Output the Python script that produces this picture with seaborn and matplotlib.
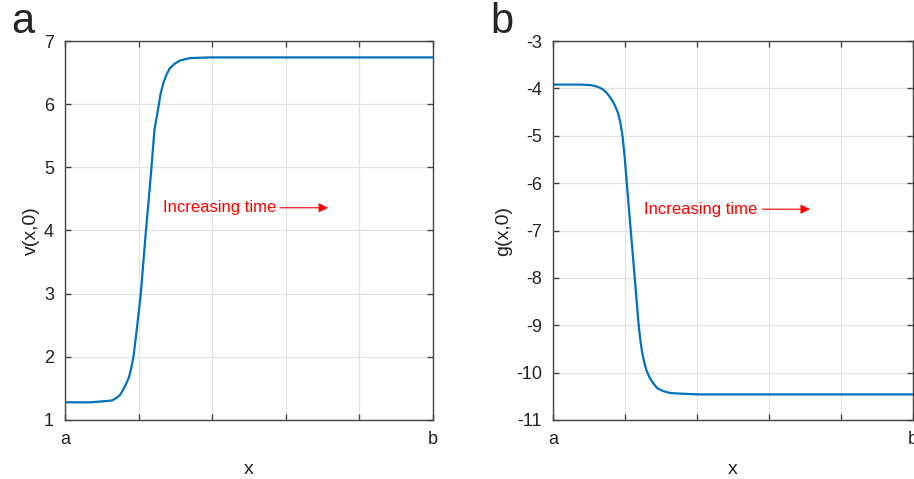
import matplotlib
matplotlib.use("Agg")
import matplotlib.pyplot as plt
import seaborn as sns
import pandas as pd

# ---- data (x normalised: a = 0, b = 1) ----
v_x = [0.0, 0.068, 0.113, 0.128, 0.140, 0.150, 0.158, 0.166, 0.174, 0.180, 0.186,
       0.195, 0.206, 0.213, 0.220, 0.228, 0.235, 0.243, 0.254, 0.260, 0.267,
       0.276, 0.285, 0.298, 0.3125, 0.325, 0.340, 0.394, 1.0]
v_y = [1.28, 1.28, 1.30, 1.31, 1.35, 1.40, 1.48, 1.57, 1.68, 1.82, 2.0,
       2.43, 3.0, 3.5, 4.0, 4.52, 5.0, 5.59, 5.96, 6.17, 6.33,
       6.47, 6.57, 6.64, 6.69, 6.71, 6.73, 6.74, 6.74]

g_x = [0.0, 0.075, 0.103, 0.117, 0.131, 0.140, 0.147, 0.155, 0.163, 0.172, 0.181,
       0.187, 0.193, 0.199, 0.205, 0.216, 0.227, 0.238, 0.243, 0.248, 0.254,
       0.260, 0.268, 0.279, 0.290, 0.306, 0.325, 0.344, 0.408, 1.0]
g_y = [-3.92, -3.92, -3.93, -3.95, -3.99, -4.03, -4.08, -4.15, -4.24, -4.36, -4.53,
       -4.72, -5.0, -5.45, -6.0, -7.0, -8.0, -9.0, -9.33, -9.59, -9.80,
       -9.96, -10.10, -10.23, -10.33, -10.39, -10.43, -10.44, -10.46, -10.46]

x_ticks = [0.0, 0.2, 0.4, 0.6, 0.8, 1.0]
x_ticklabels = ["a", "", "", "", "", "b"]
v_ticks = [1, 2, 3, 4, 5, 6, 7]
g_ticks = [-11, -10, -9, -8, -7, -6, -5, -4, -3]
annot_text = "Increasing time"

sns.set_theme(style="white")
plt.rcParams["font.family"] = ["Liberation Sans", "DejaVu Sans"]
plt.rcParams["axes.unicode_minus"] = False

fig = plt.figure(figsize=(9.14, 4.79), dpi=100)
ax1 = fig.add_axes([65/914, 1-420/479, 368/914, 379/479])
ax2 = fig.add_axes([553/914, 1-420/479, 360/914, 379/479])

blue = "#0072BD"
df_v = pd.DataFrame({"x": v_x, "y": v_y})
df_g = pd.DataFrame({"x": g_x, "y": g_y})
sns.lineplot(data=df_v, x="x", y="y", ax=ax1, color=blue, lw=1.6)
sns.lineplot(data=df_g, x="x", y="y", ax=ax2, color=blue, lw=1.6)

for ax, yt, ylab, lim in [(ax1, v_ticks, "v(x,0)", (1, 7)),
                          (ax2, g_ticks, "g(x,0)", (-11, -3))]:
    ax.set_xlim(0, 1)
    ax.set_ylim(*lim)
    ax.set_xticks(x_ticks)
    ax.set_xticklabels(x_ticklabels)
    ax.set_yticks(yt)
    ax.set_yticklabels([str(t) for t in yt])
    ax.grid(True, color="#e3e3e3", lw=0.9)
    ax.set_axisbelow(True)
    for s in ax.spines.values():
        s.set_color("#454545")
        s.set_linewidth(1.0)
        s.set_visible(True)
    ax.tick_params(axis="both", direction="in", length=4, width=1.0,
                   color="#454545", labelsize=13, labelcolor="#222222",
                   top=True, right=True, left=True, bottom=True, pad=8)
    ax.set_xlabel("x", fontsize=14, color="#222222", labelpad=9)
    ax.set_ylabel(ylab, fontsize=14, color="#222222", labelpad=3)

# annotations
ax1.text(0.267, 4.36, annot_text, color="red", fontsize=12, ha="left", va="center")
ax1.annotate("", xy=(0.715, 4.36), xytext=(0.584, 4.36),
             arrowprops=dict(arrowstyle="-|>", color="red", lw=0.8,
                             mutation_scale=14, shrinkA=0, shrinkB=0))
ax2.text(0.253, -6.55, annot_text, color="red", fontsize=12, ha="left", va="center")
ax2.annotate("", xy=(0.714, -6.55), xytext=(0.581, -6.55),
             arrowprops=dict(arrowstyle="-|>", color="red", lw=0.8,
                             mutation_scale=14, shrinkA=0, shrinkB=0))

fig.text(11/914, 1-22/479, "a", fontsize=30, ha="left", va="center")
fig.text(490/914, 1-22/479, "b", fontsize=30, ha="left", va="center")

fig.savefig("out.png", dpi=100)
